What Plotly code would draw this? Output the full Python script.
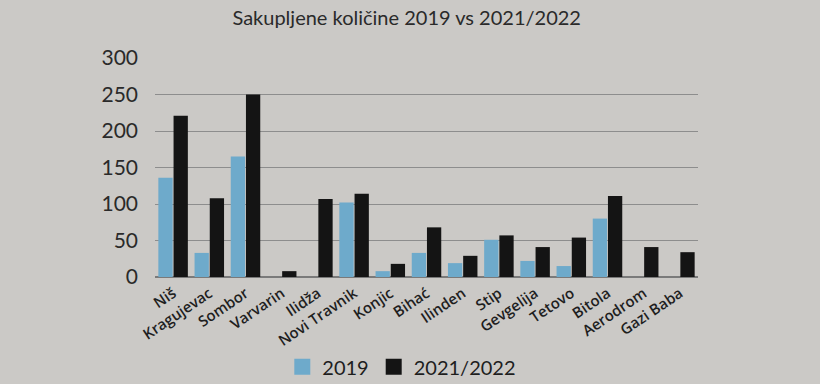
import plotly.graph_objects as go

categories = ["Niš", "Kragujevac", "Sombor", "Varvarin", "Ilidža", "Novi Travnik", "Konjic",
              "Bihać", "Ilinden", "Stip", "Gevgelija", "Tetovo", "Bitola", "Aerodrom", "Gazi Baba"]
values_2019 = [136, 33, 165, 0, 0, 102, 8, 33, 19, 51, 22, 15, 80, 0, 0]
values_2021 = [221, 108, 250, 8, 107, 114, 18, 68, 29, 57, 41, 54, 111, 41, 34]
series_names = ["2019", "2021/2022"]
series_colors = ["#6eaacb", "#141414"]
y_ticks = [0, 50, 100, 150, 200, 250, 300]

bg = "#cbc9c6"
font_family = "Lato, 'Open Sans', sans-serif"

fig = go.Figure()
for name, vals, col in zip(series_names, [values_2019, values_2021], series_colors):
    fig.add_trace(go.Bar(name=name, x=categories, y=vals, marker_color=col,
                         marker_line_width=0, showlegend=False, legendgroup=name))
# legend entries with larger square symbols
for name, col in zip(series_names, series_colors):
    fig.add_trace(go.Scatter(name=name, x=[None], y=[None], mode="markers",
                             marker=dict(symbol="square", size=22, color=col),
                             showlegend=True, legendgroup=name))

fig.update_layout(
    width=820, height=384,
    paper_bgcolor=bg, plot_bgcolor=bg,
    margin=dict(l=155, r=122, t=58, b=107),
    barmode="group", bargap=0.16, bargroupgap=0.06,
    font=dict(family=font_family, color="#1e1e1e"),
    title=dict(text="Sakupljene količine 2019 vs 2021/2022", x=0.496, xanchor="center",
               y=0.952, yanchor="middle", font=dict(size=20, color="#2a2a2a")),
    legend=dict(orientation="h", x=0.49, xanchor="center", xref="container",
                y=0.045, yanchor="middle", yref="container",
                font=dict(size=20, color="#1e1e1e"), itemwidth=30, bgcolor="rgba(0,0,0,0)",
                itemsizing="trace"),
)
fig.update_yaxes(range=[0, 300], tickvals=y_ticks, showgrid=True, gridcolor="#8d8d8d",
                 gridwidth=1, zeroline=True, zerolinecolor="#7a7a7a", zerolinewidth=1.5,
                 tickfont=dict(size=21, color="#2a2a2a"), ticklabelstandoff=16, showline=False,
                 automargin=False)
fig.update_xaxes(tickangle=-34, tickfont=dict(size=15, color="#1e1e1e", family="'Open Sans', sans-serif", weight=600),
                 ticklabelstandoff=4, showgrid=False, showline=False, automargin=False)

fig.write_html("out.html")
